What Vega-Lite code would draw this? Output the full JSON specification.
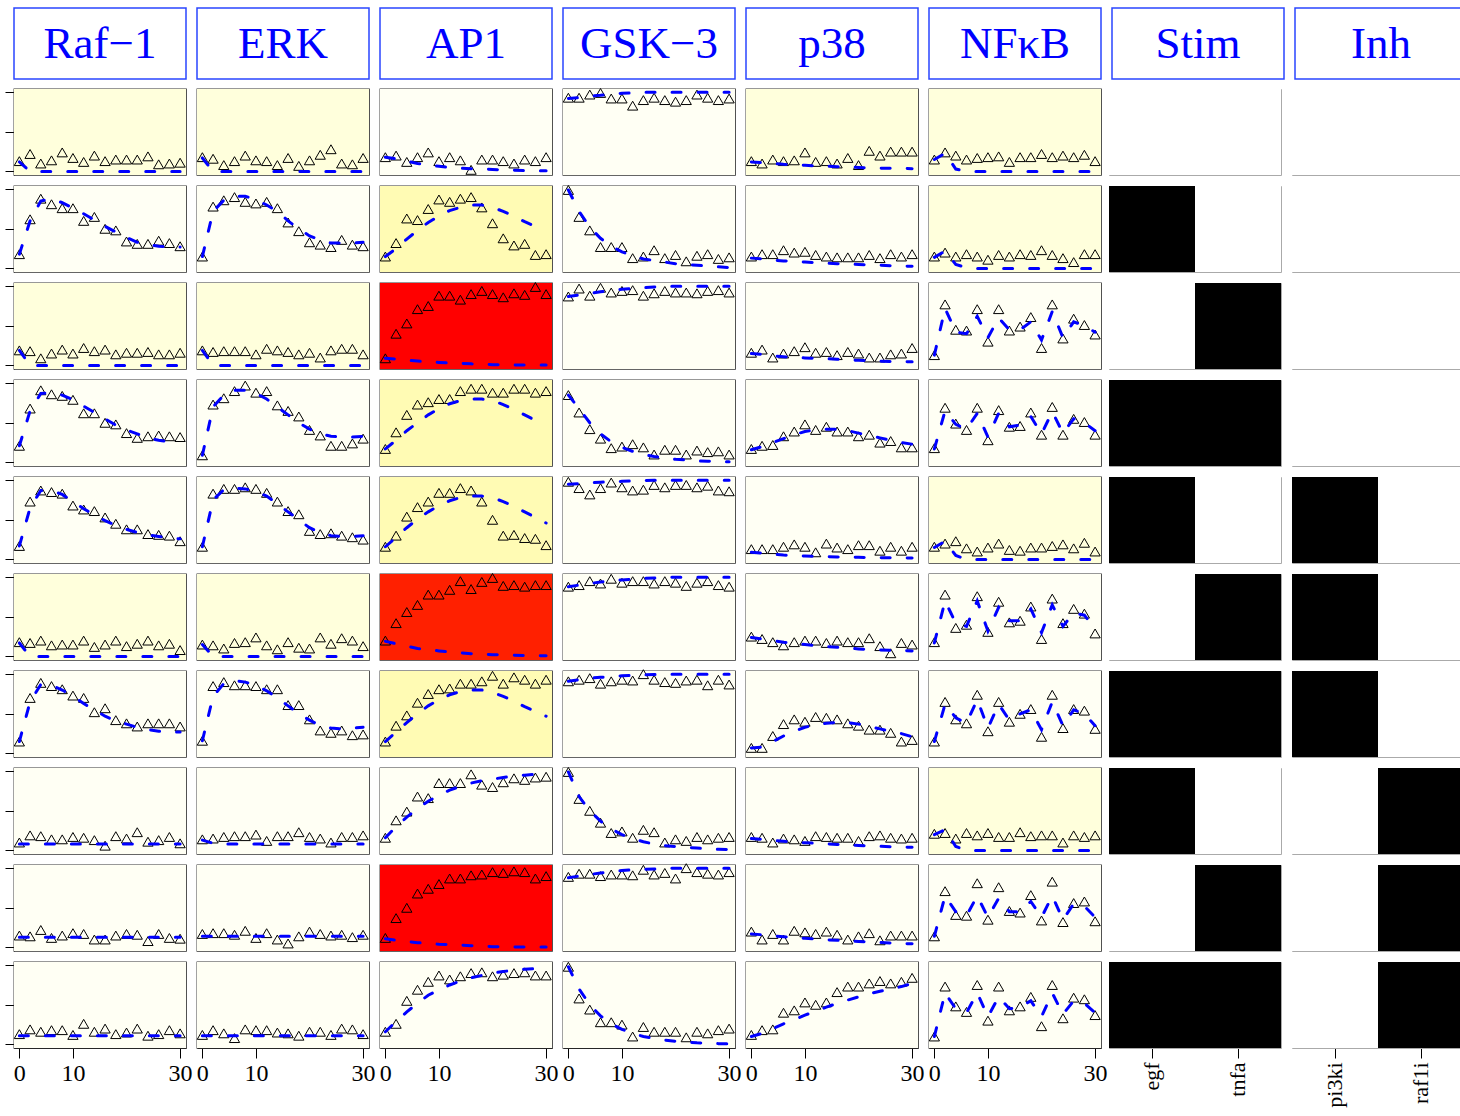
{
"$schema":"https://vega.github.io/schema/vega-lite/v6.json",
"background":"white",
"padding":{"left":4,"top":7,"right":0,"bottom":0},
"config":{"font":"Liberation Serif","view":{"stroke":"#333333","strokeWidth":1.3},"axis":{"grid":false,"domainColor":"#000000","tickColor":"#000000","labelColor":"#000000","labelFont":"Liberation Serif","labelFontSize":24}},
"datasets":{
"heads":[{"h":"Raf−1"},{"h":"ERK"},{"h":"AP1"},{"h":"GSK−3"},{"h":"p38"},{"h":"NFκB"},{"h":"Stim"},{"h":"Inh"}],
"stim":[
{"e":1,"s":"egf","v":0},{"e":1,"s":"tnfa","v":0},{"e":2,"s":"egf","v":1},{"e":2,"s":"tnfa","v":0},{"e":3,"s":"egf","v":0},{"e":3,"s":"tnfa","v":1},{"e":4,"s":"egf","v":1},{"e":4,"s":"tnfa","v":1},{"e":5,"s":"egf","v":1},{"e":5,"s":"tnfa","v":0},{"e":6,"s":"egf","v":0},{"e":6,"s":"tnfa","v":1},{"e":7,"s":"egf","v":1},{"e":7,"s":"tnfa","v":1},{"e":8,"s":"egf","v":1},{"e":8,"s":"tnfa","v":0},{"e":9,"s":"egf","v":0},{"e":9,"s":"tnfa","v":1},{"e":10,"s":"egf","v":1},{"e":10,"s":"tnfa","v":1}],
"inh":[
{"e":1,"s":"pi3ki","v":0},{"e":1,"s":"raf1i","v":0},{"e":2,"s":"pi3ki","v":0},{"e":2,"s":"raf1i","v":0},{"e":3,"s":"pi3ki","v":0},{"e":3,"s":"raf1i","v":0},{"e":4,"s":"pi3ki","v":0},{"e":4,"s":"raf1i","v":0},{"e":5,"s":"pi3ki","v":1},{"e":5,"s":"raf1i","v":0},{"e":6,"s":"pi3ki","v":1},{"e":6,"s":"raf1i","v":0},{"e":7,"s":"pi3ki","v":1},{"e":7,"s":"raf1i","v":0},{"e":8,"s":"pi3ki","v":0},{"e":8,"s":"raf1i","v":1},{"e":9,"s":"pi3ki","v":0},{"e":9,"s":"raf1i","v":1},{"e":10,"s":"pi3ki","v":0},{"e":10,"s":"raf1i","v":1}],
"obs":[
{"e":1,"p":"Raf−1","r":0.02},{"e":2,"p":"Raf−1","r":0.003},{"e":3,"p":"Raf−1","r":0.02},{"e":4,"p":"Raf−1","r":0.003},{"e":5,"p":"Raf−1","r":0.003},{"e":6,"p":"Raf−1","r":0.02},{"e":7,"p":"Raf−1","r":0.003},{"e":8,"p":"Raf−1","r":0.006},{"e":9,"p":"Raf−1","r":0.004},{"e":10,"p":"Raf−1","r":0.006},
{"e":1,"p":"ERK","r":0.02},{"e":2,"p":"ERK","r":0.004},{"e":3,"p":"ERK","r":0.02},{"e":4,"p":"ERK","r":0.005},{"e":5,"p":"ERK","r":0.004},{"e":6,"p":"ERK","r":0.02},{"e":7,"p":"ERK","r":0.004},{"e":8,"p":"ERK","r":0.004},{"e":9,"p":"ERK","r":0.003},{"e":10,"p":"ERK","r":0.004},
{"e":1,"p":"AP1","r":0.008},{"e":2,"p":"AP1","r":0.07},{"e":3,"p":"AP1","r":0.3},{"e":4,"p":"AP1","r":0.06},{"e":5,"p":"AP1","r":0.07},{"e":6,"p":"AP1","r":0.27},{"e":7,"p":"AP1","r":0.06},{"e":8,"p":"AP1","r":0.006},{"e":9,"p":"AP1","r":0.29},{"e":10,"p":"AP1","r":0.008},
{"e":1,"p":"GSK−3","r":0.004},{"e":2,"p":"GSK−3","r":0.005},{"e":3,"p":"GSK−3","r":0.003},{"e":4,"p":"GSK−3","r":0.004},{"e":5,"p":"GSK−3","r":0.004},{"e":6,"p":"GSK−3","r":0.003},{"e":7,"p":"GSK−3","r":0.003},{"e":8,"p":"GSK−3","r":0.005},{"e":9,"p":"GSK−3","r":0.003},{"e":10,"p":"GSK−3","r":0.008},
{"e":1,"p":"p38","r":0.015},{"e":2,"p":"p38","r":0.005},{"e":3,"p":"p38","r":0.004},{"e":4,"p":"p38","r":0.003},{"e":5,"p":"p38","r":0.008},{"e":6,"p":"p38","r":0.004},{"e":7,"p":"p38","r":0.003},{"e":8,"p":"p38","r":0.004},{"e":9,"p":"p38","r":0.004},{"e":10,"p":"p38","r":0.007},
{"e":1,"p":"NFκB","r":0.02},{"e":2,"p":"NFκB","r":0.02},{"e":3,"p":"NFκB","r":0.0},{"e":4,"p":"NFκB","r":0.0},{"e":5,"p":"NFκB","r":0.02},{"e":6,"p":"NFκB","r":0.004},{"e":7,"p":"NFκB","r":0.004},{"e":8,"p":"NFκB","r":0.025},{"e":9,"p":"NFκB","r":0.004},{"e":10,"p":"NFκB","r":0.005},

{"e":1,"p":"Raf−1","t":0,"d":0.13,"m":0.12},{"e":1,"p":"Raf−1","t":2,"d":0.22,"m":0},{"e":1,"p":"Raf−1","t":4,"d":0.10,"m":0},{"e":1,"p":"Raf−1","t":6,"d":0.14,"m":0},{"e":1,"p":"Raf−1","t":8,"d":0.24,"m":0},{"e":1,"p":"Raf−1","t":10,"d":0.17,"m":0},{"e":1,"p":"Raf−1","t":12,"d":0.12,"m":0},{"e":1,"p":"Raf−1","t":14,"d":0.20,"m":0},{"e":1,"p":"Raf−1","t":16,"d":0.13,"m":0},{"e":1,"p":"Raf−1","t":18,"d":0.15,"m":0},{"e":1,"p":"Raf−1","t":20,"d":0.15,"m":0},{"e":1,"p":"Raf−1","t":22,"d":0.15,"m":0},{"e":1,"p":"Raf−1","t":24,"d":0.19,"m":0},{"e":1,"p":"Raf−1","t":26,"d":0.09,"m":0},{"e":1,"p":"Raf−1","t":28,"d":0.10,"m":0},{"e":1,"p":"Raf−1","t":30,"d":0.11,"m":0},
{"e":2,"p":"Raf−1","t":0,"d":0.18,"m":0.18},{"e":2,"p":"Raf−1","t":2,"d":0.62,"m":0.60},{"e":2,"p":"Raf−1","t":4,"d":0.88,"m":0.85},{"e":2,"p":"Raf−1","t":6,"d":0.81,"m":0.88},{"e":2,"p":"Raf−1","t":8,"d":0.76,"m":0.83},{"e":2,"p":"Raf−1","t":10,"d":0.76,"m":0.76},{"e":2,"p":"Raf−1","t":12,"d":0.60,"m":0.69},{"e":2,"p":"Raf−1","t":14,"d":0.65,"m":0.61},{"e":2,"p":"Raf−1","t":16,"d":0.50,"m":0.53},{"e":2,"p":"Raf−1","t":18,"d":0.48,"m":0.46},{"e":2,"p":"Raf−1","t":20,"d":0.34,"m":0.39},{"e":2,"p":"Raf−1","t":22,"d":0.31,"m":0.33},{"e":2,"p":"Raf−1","t":24,"d":0.31,"m":0.30},{"e":2,"p":"Raf−1","t":26,"d":0.35,"m":0.28},{"e":2,"p":"Raf−1","t":28,"d":0.32,"m":0.27},{"e":2,"p":"Raf−1","t":30,"d":0.28,"m":0.27},
{"e":3,"p":"Raf−1","t":0,"d":0.19,"m":0.19},{"e":3,"p":"Raf−1","t":2,"d":0.18,"m":0},{"e":3,"p":"Raf−1","t":4,"d":0.09,"m":0},{"e":3,"p":"Raf−1","t":6,"d":0.15,"m":0},{"e":3,"p":"Raf−1","t":8,"d":0.20,"m":0},{"e":3,"p":"Raf−1","t":10,"d":0.15,"m":0},{"e":3,"p":"Raf−1","t":12,"d":0.22,"m":0},{"e":3,"p":"Raf−1","t":14,"d":0.18,"m":0},{"e":3,"p":"Raf−1","t":16,"d":0.20,"m":0},{"e":3,"p":"Raf−1","t":18,"d":0.14,"m":0},{"e":3,"p":"Raf−1","t":20,"d":0.16,"m":0},{"e":3,"p":"Raf−1","t":22,"d":0.16,"m":0},{"e":3,"p":"Raf−1","t":24,"d":0.17,"m":0},{"e":3,"p":"Raf−1","t":26,"d":0.14,"m":0},{"e":3,"p":"Raf−1","t":28,"d":0.14,"m":0},{"e":3,"p":"Raf−1","t":30,"d":0.16,"m":0},
{"e":4,"p":"Raf−1","t":0,"d":0.21,"m":0.21},{"e":4,"p":"Raf−1","t":2,"d":0.68,"m":0.65},{"e":4,"p":"Raf−1","t":4,"d":0.91,"m":0.87},{"e":4,"p":"Raf−1","t":6,"d":0.86,"m":0.88},{"e":4,"p":"Raf−1","t":8,"d":0.84,"m":0.85},{"e":4,"p":"Raf−1","t":10,"d":0.79,"m":0.79},{"e":4,"p":"Raf−1","t":12,"d":0.62,"m":0.71},{"e":4,"p":"Raf−1","t":14,"d":0.62,"m":0.63},{"e":4,"p":"Raf−1","t":16,"d":0.50,"m":0.55},{"e":4,"p":"Raf−1","t":18,"d":0.48,"m":0.47},{"e":4,"p":"Raf−1","t":20,"d":0.37,"m":0.41},{"e":4,"p":"Raf−1","t":22,"d":0.31,"m":0.36},{"e":4,"p":"Raf−1","t":24,"d":0.33,"m":0.31},{"e":4,"p":"Raf−1","t":26,"d":0.34,"m":0.28},{"e":4,"p":"Raf−1","t":28,"d":0.33,"m":0.26},{"e":4,"p":"Raf−1","t":30,"d":0.32,"m":0.26},
{"e":5,"p":"Raf−1","t":0,"d":0.17,"m":0.17},{"e":5,"p":"Raf−1","t":2,"d":0.73,"m":0.65},{"e":5,"p":"Raf−1","t":4,"d":0.87,"m":0.87},{"e":5,"p":"Raf−1","t":6,"d":0.85,"m":0.87},{"e":5,"p":"Raf−1","t":8,"d":0.83,"m":0.82},{"e":5,"p":"Raf−1","t":10,"d":0.68,"m":0.73},{"e":5,"p":"Raf−1","t":12,"d":0.63,"m":0.64},{"e":5,"p":"Raf−1","t":14,"d":0.61,"m":0.56},{"e":5,"p":"Raf−1","t":16,"d":0.53,"m":0.49},{"e":5,"p":"Raf−1","t":18,"d":0.45,"m":0.43},{"e":5,"p":"Raf−1","t":20,"d":0.38,"m":0.38},{"e":5,"p":"Raf−1","t":22,"d":0.38,"m":0.34},{"e":5,"p":"Raf−1","t":24,"d":0.32,"m":0.31},{"e":5,"p":"Raf−1","t":26,"d":0.31,"m":0.29},{"e":5,"p":"Raf−1","t":28,"d":0.30,"m":0.27},{"e":5,"p":"Raf−1","t":30,"d":0.23,"m":0.26},
{"e":6,"p":"Raf−1","t":0,"d":0.18,"m":0.17},{"e":6,"p":"Raf−1","t":2,"d":0.17,"m":0},{"e":6,"p":"Raf−1","t":4,"d":0.20,"m":0},{"e":6,"p":"Raf−1","t":6,"d":0.14,"m":0},{"e":6,"p":"Raf−1","t":8,"d":0.15,"m":0},{"e":6,"p":"Raf−1","t":10,"d":0.15,"m":0},{"e":6,"p":"Raf−1","t":12,"d":0.20,"m":0},{"e":6,"p":"Raf−1","t":14,"d":0.12,"m":0},{"e":6,"p":"Raf−1","t":16,"d":0.15,"m":0},{"e":6,"p":"Raf−1","t":18,"d":0.20,"m":0},{"e":6,"p":"Raf−1","t":20,"d":0.13,"m":0},{"e":6,"p":"Raf−1","t":22,"d":0.16,"m":0},{"e":6,"p":"Raf−1","t":24,"d":0.20,"m":0},{"e":6,"p":"Raf−1","t":26,"d":0.14,"m":0},{"e":6,"p":"Raf−1","t":28,"d":0.16,"m":0},{"e":6,"p":"Raf−1","t":30,"d":0.08,"m":0},
{"e":7,"p":"Raf−1","t":0,"d":0.15,"m":0.15},{"e":7,"p":"Raf−1","t":2,"d":0.70,"m":0.65},{"e":7,"p":"Raf−1","t":4,"d":0.89,"m":0.87},{"e":7,"p":"Raf−1","t":6,"d":0.85,"m":0.86},{"e":7,"p":"Raf−1","t":8,"d":0.81,"m":0.80},{"e":7,"p":"Raf−1","t":10,"d":0.73,"m":0.72},{"e":7,"p":"Raf−1","t":12,"d":0.70,"m":0.63},{"e":7,"p":"Raf−1","t":14,"d":0.52,"m":0.55},{"e":7,"p":"Raf−1","t":16,"d":0.57,"m":0.47},{"e":7,"p":"Raf−1","t":18,"d":0.42,"m":0.41},{"e":7,"p":"Raf−1","t":20,"d":0.38,"m":0.37},{"e":7,"p":"Raf−1","t":22,"d":0.34,"m":0.33},{"e":7,"p":"Raf−1","t":24,"d":0.38,"m":0.30},{"e":7,"p":"Raf−1","t":26,"d":0.38,"m":0.28},{"e":7,"p":"Raf−1","t":28,"d":0.38,"m":0.27},{"e":7,"p":"Raf−1","t":30,"d":0.34,"m":0.27},
{"e":8,"p":"Raf−1","t":0,"d":0.10,"m":0.08},{"e":8,"p":"Raf−1","t":2,"d":0.19,"m":0.08},{"e":8,"p":"Raf−1","t":4,"d":0.18,"m":0.08},{"e":8,"p":"Raf−1","t":6,"d":0.14,"m":0.08},{"e":8,"p":"Raf−1","t":8,"d":0.14,"m":0.08},{"e":8,"p":"Raf−1","t":10,"d":0.17,"m":0.08},{"e":8,"p":"Raf−1","t":12,"d":0.16,"m":0.08},{"e":8,"p":"Raf−1","t":14,"d":0.13,"m":0.08},{"e":8,"p":"Raf−1","t":16,"d":0.06,"m":0.08},{"e":8,"p":"Raf−1","t":18,"d":0.18,"m":0.08},{"e":8,"p":"Raf−1","t":20,"d":0.15,"m":0.08},{"e":8,"p":"Raf−1","t":22,"d":0.23,"m":0.08},{"e":8,"p":"Raf−1","t":24,"d":0.11,"m":0.08},{"e":8,"p":"Raf−1","t":26,"d":0.13,"m":0.08},{"e":8,"p":"Raf−1","t":28,"d":0.17,"m":0.08},{"e":8,"p":"Raf−1","t":30,"d":0.09,"m":0.08},
{"e":9,"p":"Raf−1","t":0,"d":0.15,"m":0.13},{"e":9,"p":"Raf−1","t":2,"d":0.14,"m":0.13},{"e":9,"p":"Raf−1","t":4,"d":0.22,"m":0.13},{"e":9,"p":"Raf−1","t":6,"d":0.12,"m":0.13},{"e":9,"p":"Raf−1","t":8,"d":0.15,"m":0.13},{"e":9,"p":"Raf−1","t":10,"d":0.18,"m":0.13},{"e":9,"p":"Raf−1","t":12,"d":0.17,"m":0.13},{"e":9,"p":"Raf−1","t":14,"d":0.10,"m":0.13},{"e":9,"p":"Raf−1","t":16,"d":0.10,"m":0.13},{"e":9,"p":"Raf−1","t":18,"d":0.15,"m":0.13},{"e":9,"p":"Raf−1","t":20,"d":0.17,"m":0.13},{"e":9,"p":"Raf−1","t":22,"d":0.16,"m":0.13},{"e":9,"p":"Raf−1","t":24,"d":0.08,"m":0.13},{"e":9,"p":"Raf−1","t":26,"d":0.17,"m":0.13},{"e":9,"p":"Raf−1","t":28,"d":0.12,"m":0.13},{"e":9,"p":"Raf−1","t":30,"d":0.11,"m":0.13},
{"e":10,"p":"Raf−1","t":0,"d":0.13,"m":0.11},{"e":10,"p":"Raf−1","t":2,"d":0.19,"m":0.11},{"e":10,"p":"Raf−1","t":4,"d":0.16,"m":0.11},{"e":10,"p":"Raf−1","t":6,"d":0.18,"m":0.11},{"e":10,"p":"Raf−1","t":8,"d":0.18,"m":0.11},{"e":10,"p":"Raf−1","t":10,"d":0.12,"m":0.11},{"e":10,"p":"Raf−1","t":12,"d":0.26,"m":0.11},{"e":10,"p":"Raf−1","t":14,"d":0.16,"m":0.11},{"e":10,"p":"Raf−1","t":16,"d":0.20,"m":0.11},{"e":10,"p":"Raf−1","t":18,"d":0.13,"m":0.11},{"e":10,"p":"Raf−1","t":20,"d":0.15,"m":0.11},{"e":10,"p":"Raf−1","t":22,"d":0.20,"m":0.11},{"e":10,"p":"Raf−1","t":24,"d":0.11,"m":0.11},{"e":10,"p":"Raf−1","t":26,"d":0.13,"m":0.11},{"e":10,"p":"Raf−1","t":28,"d":0.18,"m":0.11},{"e":10,"p":"Raf−1","t":30,"d":0.14,"m":0.11},

{"e":1,"p":"ERK","t":0,"d":0.18,"m":0.17},{"e":1,"p":"ERK","t":2,"d":0.16,"m":0},{"e":1,"p":"ERK","t":4,"d":0.08,"m":0},{"e":1,"p":"ERK","t":6,"d":0.13,"m":0},{"e":1,"p":"ERK","t":8,"d":0.20,"m":0},{"e":1,"p":"ERK","t":10,"d":0.14,"m":0},{"e":1,"p":"ERK","t":12,"d":0.13,"m":0},{"e":1,"p":"ERK","t":14,"d":0.08,"m":0},{"e":1,"p":"ERK","t":16,"d":0.17,"m":0},{"e":1,"p":"ERK","t":18,"d":0.07,"m":0},{"e":1,"p":"ERK","t":20,"d":0.14,"m":0},{"e":1,"p":"ERK","t":22,"d":0.21,"m":0},{"e":1,"p":"ERK","t":24,"d":0.28,"m":0},{"e":1,"p":"ERK","t":26,"d":0.10,"m":0},{"e":1,"p":"ERK","t":28,"d":0.09,"m":0},{"e":1,"p":"ERK","t":30,"d":0.17,"m":0},
{"e":2,"p":"ERK","t":0,"d":0.15,"m":0.15},{"e":2,"p":"ERK","t":2,"d":0.78,"m":0.72},{"e":2,"p":"ERK","t":4,"d":0.86,"m":0.86},{"e":2,"p":"ERK","t":6,"d":0.90,"m":0.91},{"e":2,"p":"ERK","t":8,"d":0.84,"m":0.91},{"e":2,"p":"ERK","t":10,"d":0.82,"m":0.87},{"e":2,"p":"ERK","t":12,"d":0.84,"m":0.80},{"e":2,"p":"ERK","t":14,"d":0.76,"m":0.72},{"e":2,"p":"ERK","t":16,"d":0.58,"m":0.60},{"e":2,"p":"ERK","t":18,"d":0.47,"m":0.50},{"e":2,"p":"ERK","t":20,"d":0.33,"m":0.41},{"e":2,"p":"ERK","t":22,"d":0.30,"m":0.36},{"e":2,"p":"ERK","t":24,"d":0.27,"m":0.32},{"e":2,"p":"ERK","t":26,"d":0.36,"m":0.32},{"e":2,"p":"ERK","t":28,"d":0.30,"m":0.32},{"e":2,"p":"ERK","t":30,"d":0.28,"m":0.33},
{"e":3,"p":"ERK","t":0,"d":0.19,"m":0.19},{"e":3,"p":"ERK","t":2,"d":0.17,"m":0},{"e":3,"p":"ERK","t":4,"d":0.18,"m":0},{"e":3,"p":"ERK","t":6,"d":0.18,"m":0},{"e":3,"p":"ERK","t":8,"d":0.18,"m":0},{"e":3,"p":"ERK","t":10,"d":0.14,"m":0},{"e":3,"p":"ERK","t":12,"d":0.21,"m":0},{"e":3,"p":"ERK","t":14,"d":0.19,"m":0},{"e":3,"p":"ERK","t":16,"d":0.17,"m":0},{"e":3,"p":"ERK","t":18,"d":0.14,"m":0},{"e":3,"p":"ERK","t":20,"d":0.16,"m":0},{"e":3,"p":"ERK","t":22,"d":0.10,"m":0},{"e":3,"p":"ERK","t":24,"d":0.19,"m":0},{"e":3,"p":"ERK","t":26,"d":0.21,"m":0},{"e":3,"p":"ERK","t":28,"d":0.21,"m":0},{"e":3,"p":"ERK","t":30,"d":0.14,"m":0},
{"e":4,"p":"ERK","t":0,"d":0.09,"m":0.09},{"e":4,"p":"ERK","t":2,"d":0.73,"m":0.70},{"e":4,"p":"ERK","t":4,"d":0.81,"m":0.85},{"e":4,"p":"ERK","t":6,"d":0.90,"m":0.91},{"e":4,"p":"ERK","t":8,"d":0.97,"m":0.91},{"e":4,"p":"ERK","t":10,"d":0.88,"m":0.87},{"e":4,"p":"ERK","t":12,"d":0.90,"m":0.80},{"e":4,"p":"ERK","t":14,"d":0.72,"m":0.70},{"e":4,"p":"ERK","t":16,"d":0.65,"m":0.60},{"e":4,"p":"ERK","t":18,"d":0.58,"m":0.50},{"e":4,"p":"ERK","t":20,"d":0.41,"m":0.42},{"e":4,"p":"ERK","t":22,"d":0.34,"m":0.36},{"e":4,"p":"ERK","t":24,"d":0.21,"m":0.33},{"e":4,"p":"ERK","t":26,"d":0.21,"m":0.32},{"e":4,"p":"ERK","t":28,"d":0.24,"m":0.32},{"e":4,"p":"ERK","t":30,"d":0.30,"m":0.33},
{"e":5,"p":"ERK","t":0,"d":0.16,"m":0.16},{"e":5,"p":"ERK","t":2,"d":0.83,"m":0.75},{"e":5,"p":"ERK","t":4,"d":0.89,"m":0.88},{"e":5,"p":"ERK","t":6,"d":0.89,"m":0.90},{"e":5,"p":"ERK","t":8,"d":0.91,"m":0.89},{"e":5,"p":"ERK","t":10,"d":0.89,"m":0.86},{"e":5,"p":"ERK","t":12,"d":0.84,"m":0.80},{"e":5,"p":"ERK","t":14,"d":0.73,"m":0.70},{"e":5,"p":"ERK","t":16,"d":0.61,"m":0.60},{"e":5,"p":"ERK","t":18,"d":0.57,"m":0.50},{"e":5,"p":"ERK","t":20,"d":0.36,"m":0.40},{"e":5,"p":"ERK","t":22,"d":0.32,"m":0.34},{"e":5,"p":"ERK","t":24,"d":0.33,"m":0.30},{"e":5,"p":"ERK","t":26,"d":0.30,"m":0.29},{"e":5,"p":"ERK","t":28,"d":0.28,"m":0.29},{"e":5,"p":"ERK","t":30,"d":0.25,"m":0.30},
{"e":6,"p":"ERK","t":0,"d":0.15,"m":0.15},{"e":6,"p":"ERK","t":2,"d":0.14,"m":0},{"e":6,"p":"ERK","t":4,"d":0.10,"m":0},{"e":6,"p":"ERK","t":6,"d":0.17,"m":0},{"e":6,"p":"ERK","t":8,"d":0.18,"m":0},{"e":6,"p":"ERK","t":10,"d":0.24,"m":0},{"e":6,"p":"ERK","t":12,"d":0.14,"m":0},{"e":6,"p":"ERK","t":14,"d":0.09,"m":0},{"e":6,"p":"ERK","t":16,"d":0.18,"m":0},{"e":6,"p":"ERK","t":18,"d":0.11,"m":0},{"e":6,"p":"ERK","t":20,"d":0.10,"m":0},{"e":6,"p":"ERK","t":22,"d":0.24,"m":0},{"e":6,"p":"ERK","t":24,"d":0.16,"m":0},{"e":6,"p":"ERK","t":26,"d":0.23,"m":0},{"e":6,"p":"ERK","t":28,"d":0.20,"m":0},{"e":6,"p":"ERK","t":30,"d":0.13,"m":0},
{"e":7,"p":"ERK","t":0,"d":0.16,"m":0.16},{"e":7,"p":"ERK","t":2,"d":0.85,"m":0.72},{"e":7,"p":"ERK","t":4,"d":0.90,"m":0.88},{"e":7,"p":"ERK","t":6,"d":0.86,"m":0.92},{"e":7,"p":"ERK","t":8,"d":0.86,"m":0.90},{"e":7,"p":"ERK","t":10,"d":0.85,"m":0.86},{"e":7,"p":"ERK","t":12,"d":0.81,"m":0.79},{"e":7,"p":"ERK","t":14,"d":0.81,"m":0.70},{"e":7,"p":"ERK","t":16,"d":0.61,"m":0.60},{"e":7,"p":"ERK","t":18,"d":0.61,"m":0.50},{"e":7,"p":"ERK","t":20,"d":0.43,"m":0.42},{"e":7,"p":"ERK","t":22,"d":0.29,"m":0.35},{"e":7,"p":"ERK","t":24,"d":0.26,"m":0.32},{"e":7,"p":"ERK","t":26,"d":0.29,"m":0.31},{"e":7,"p":"ERK","t":28,"d":0.23,"m":0.32},{"e":7,"p":"ERK","t":30,"d":0.24,"m":0.33},
{"e":8,"p":"ERK","t":0,"d":0.14,"m":0.13},{"e":8,"p":"ERK","t":2,"d":0.15,"m":0.09},{"e":8,"p":"ERK","t":4,"d":0.17,"m":0.08},{"e":8,"p":"ERK","t":6,"d":0.18,"m":0.08},{"e":8,"p":"ERK","t":8,"d":0.18,"m":0.08},{"e":8,"p":"ERK","t":10,"d":0.20,"m":0.08},{"e":8,"p":"ERK","t":12,"d":0.12,"m":0.08},{"e":8,"p":"ERK","t":14,"d":0.18,"m":0.08},{"e":8,"p":"ERK","t":16,"d":0.18,"m":0.08},{"e":8,"p":"ERK","t":18,"d":0.23,"m":0.08},{"e":8,"p":"ERK","t":20,"d":0.17,"m":0.08},{"e":8,"p":"ERK","t":22,"d":0.15,"m":0.08},{"e":8,"p":"ERK","t":24,"d":0.10,"m":0.08},{"e":8,"p":"ERK","t":26,"d":0.17,"m":0.08},{"e":8,"p":"ERK","t":28,"d":0.17,"m":0.08},{"e":8,"p":"ERK","t":30,"d":0.19,"m":0.08},
{"e":9,"p":"ERK","t":0,"d":0.17,"m":0.14},{"e":9,"p":"ERK","t":2,"d":0.18,"m":0.14},{"e":9,"p":"ERK","t":4,"d":0.18,"m":0.14},{"e":9,"p":"ERK","t":6,"d":0.16,"m":0.14},{"e":9,"p":"ERK","t":8,"d":0.21,"m":0.14},{"e":9,"p":"ERK","t":10,"d":0.12,"m":0.14},{"e":9,"p":"ERK","t":12,"d":0.18,"m":0.14},{"e":9,"p":"ERK","t":14,"d":0.10,"m":0.14},{"e":9,"p":"ERK","t":16,"d":0.05,"m":0.14},{"e":9,"p":"ERK","t":18,"d":0.14,"m":0.14},{"e":9,"p":"ERK","t":20,"d":0.20,"m":0.14},{"e":9,"p":"ERK","t":22,"d":0.17,"m":0.14},{"e":9,"p":"ERK","t":24,"d":0.15,"m":0.14},{"e":9,"p":"ERK","t":26,"d":0.16,"m":0.14},{"e":9,"p":"ERK","t":28,"d":0.13,"m":0.14},{"e":9,"p":"ERK","t":30,"d":0.16,"m":0.14},
{"e":10,"p":"ERK","t":0,"d":0.12,"m":0.11},{"e":10,"p":"ERK","t":2,"d":0.18,"m":0.11},{"e":10,"p":"ERK","t":4,"d":0.14,"m":0.11},{"e":10,"p":"ERK","t":6,"d":0.08,"m":0.11},{"e":10,"p":"ERK","t":8,"d":0.19,"m":0.11},{"e":10,"p":"ERK","t":10,"d":0.18,"m":0.11},{"e":10,"p":"ERK","t":12,"d":0.18,"m":0.11},{"e":10,"p":"ERK","t":14,"d":0.15,"m":0.11},{"e":10,"p":"ERK","t":16,"d":0.14,"m":0.11},{"e":10,"p":"ERK","t":18,"d":0.11,"m":0.11},{"e":10,"p":"ERK","t":20,"d":0.16,"m":0.11},{"e":10,"p":"ERK","t":22,"d":0.16,"m":0.11},{"e":10,"p":"ERK","t":24,"d":0.12,"m":0.11},{"e":10,"p":"ERK","t":26,"d":0.20,"m":0.11},{"e":10,"p":"ERK","t":28,"d":0.19,"m":0.11},{"e":10,"p":"ERK","t":30,"d":0.13,"m":0.11},

{"e":1,"p":"AP1","t":0,"d":0.18,"m":0.18},{"e":1,"p":"AP1","t":2,"d":0.20,"m":0.16},{"e":1,"p":"AP1","t":4,"d":0.12,"m":0.13},{"e":1,"p":"AP1","t":6,"d":0.18,"m":0.10},{"e":1,"p":"AP1","t":8,"d":0.24,"m":0.08},{"e":1,"p":"AP1","t":10,"d":0.13,"m":0.065},{"e":1,"p":"AP1","t":12,"d":0.18,"m":0.05},{"e":1,"p":"AP1","t":14,"d":0.14,"m":0.04},{"e":1,"p":"AP1","t":16,"d":0.02,"m":0.035},{"e":1,"p":"AP1","t":18,"d":0.15,"m":0.03},{"e":1,"p":"AP1","t":20,"d":0.15,"m":0.025},{"e":1,"p":"AP1","t":22,"d":0.13,"m":0.02},{"e":1,"p":"AP1","t":24,"d":0.10,"m":0.015},{"e":1,"p":"AP1","t":26,"d":0.15,"m":0.01},{"e":1,"p":"AP1","t":28,"d":0.13,"m":0.01},{"e":1,"p":"AP1","t":30,"d":0.18,"m":0.01},
{"e":2,"p":"AP1","t":0,"d":0.15,"m":0.15},{"e":2,"p":"AP1","t":2,"d":0.32,"m":0.25},{"e":2,"p":"AP1","t":4,"d":0.63,"m":0.37},{"e":2,"p":"AP1","t":6,"d":0.61,"m":0.48},{"e":2,"p":"AP1","t":8,"d":0.75,"m":0.58},{"e":2,"p":"AP1","t":10,"d":0.87,"m":0.66},{"e":2,"p":"AP1","t":12,"d":0.84,"m":0.73},{"e":2,"p":"AP1","t":14,"d":0.88,"m":0.77},{"e":2,"p":"AP1","t":16,"d":0.90,"m":0.80},{"e":2,"p":"AP1","t":18,"d":0.77,"m":0.80},{"e":2,"p":"AP1","t":20,"d":0.57,"m":0.77},{"e":2,"p":"AP1","t":22,"d":0.38,"m":0.72},{"e":2,"p":"AP1","t":24,"d":0.29,"m":0.66},{"e":2,"p":"AP1","t":26,"d":0.31,"m":0.59},{"e":2,"p":"AP1","t":28,"d":0.17,"m":0.53},{"e":2,"p":"AP1","t":30,"d":0.18,"m":0.47},
{"e":3,"p":"AP1","t":0,"d":0.09,"m":0.09},{"e":3,"p":"AP1","t":2,"d":0.40,"m":0.08},{"e":3,"p":"AP1","t":4,"d":0.53,"m":0.065},{"e":3,"p":"AP1","t":6,"d":0.71,"m":0.055},{"e":3,"p":"AP1","t":8,"d":0.75,"m":0.045},{"e":3,"p":"AP1","t":10,"d":0.88,"m":0.038},{"e":3,"p":"AP1","t":12,"d":0.88,"m":0.03},{"e":3,"p":"AP1","t":14,"d":0.83,"m":0.025},{"e":3,"p":"AP1","t":16,"d":0.90,"m":0.02},{"e":3,"p":"AP1","t":18,"d":0.94,"m":0.015},{"e":3,"p":"AP1","t":20,"d":0.90,"m":0.01},{"e":3,"p":"AP1","t":22,"d":0.86,"m":0.008},{"e":3,"p":"AP1","t":24,"d":0.91,"m":0.006},{"e":3,"p":"AP1","t":26,"d":0.89,"m":0.005},{"e":3,"p":"AP1","t":28,"d":0.99,"m":0.004},{"e":3,"p":"AP1","t":30,"d":0.90,"m":0.004},
{"e":4,"p":"AP1","t":0,"d":0.17,"m":0.17},{"e":4,"p":"AP1","t":2,"d":0.38,"m":0.28},{"e":4,"p":"AP1","t":4,"d":0.60,"m":0.40},{"e":4,"p":"AP1","t":6,"d":0.73,"m":0.50},{"e":4,"p":"AP1","t":8,"d":0.76,"m":0.60},{"e":4,"p":"AP1","t":10,"d":0.80,"m":0.68},{"e":4,"p":"AP1","t":12,"d":0.80,"m":0.74},{"e":4,"p":"AP1","t":14,"d":0.90,"m":0.78},{"e":4,"p":"AP1","t":16,"d":0.93,"m":0.80},{"e":4,"p":"AP1","t":18,"d":0.93,"m":0.80},{"e":4,"p":"AP1","t":20,"d":0.88,"m":0.78},{"e":4,"p":"AP1","t":22,"d":0.88,"m":0.73},{"e":4,"p":"AP1","t":24,"d":0.93,"m":0.67},{"e":4,"p":"AP1","t":26,"d":0.93,"m":0.60},{"e":4,"p":"AP1","t":28,"d":0.88,"m":0.53},{"e":4,"p":"AP1","t":30,"d":0.90,"m":0.46},
{"e":5,"p":"AP1","t":0,"d":0.16,"m":0.16},{"e":5,"p":"AP1","t":2,"d":0.30,"m":0.28},{"e":5,"p":"AP1","t":4,"d":0.54,"m":0.40},{"e":5,"p":"AP1","t":6,"d":0.66,"m":0.51},{"e":5,"p":"AP1","t":8,"d":0.73,"m":0.60},{"e":5,"p":"AP1","t":10,"d":0.84,"m":0.68},{"e":5,"p":"AP1","t":12,"d":0.84,"m":0.74},{"e":5,"p":"AP1","t":14,"d":0.90,"m":0.78},{"e":5,"p":"AP1","t":16,"d":0.87,"m":0.80},{"e":5,"p":"AP1","t":18,"d":0.73,"m":0.80},{"e":5,"p":"AP1","t":20,"d":0.50,"m":0.78},{"e":5,"p":"AP1","t":22,"d":0.30,"m":0.73},{"e":5,"p":"AP1","t":24,"d":0.31,"m":0.67},{"e":5,"p":"AP1","t":26,"d":0.27,"m":0.60},{"e":5,"p":"AP1","t":28,"d":0.26,"m":0.53},{"e":5,"p":"AP1","t":30,"d":0.18,"m":0.46},
{"e":6,"p":"AP1","t":0,"d":0.20,"m":0.19},{"e":6,"p":"AP1","t":2,"d":0.42,"m":0.16},{"e":6,"p":"AP1","t":4,"d":0.56,"m":0.13},{"e":6,"p":"AP1","t":6,"d":0.65,"m":0.10},{"e":6,"p":"AP1","t":8,"d":0.78,"m":0.085},{"e":6,"p":"AP1","t":10,"d":0.78,"m":0.07},{"e":6,"p":"AP1","t":12,"d":0.84,"m":0.055},{"e":6,"p":"AP1","t":14,"d":0.95,"m":0.045},{"e":6,"p":"AP1","t":16,"d":0.85,"m":0.035},{"e":6,"p":"AP1","t":18,"d":0.94,"m":0.028},{"e":6,"p":"AP1","t":20,"d":0.99,"m":0.022},{"e":6,"p":"AP1","t":22,"d":0.89,"m":0.018},{"e":6,"p":"AP1","t":24,"d":0.90,"m":0.014},{"e":6,"p":"AP1","t":26,"d":0.88,"m":0.011},{"e":6,"p":"AP1","t":28,"d":0.90,"m":0.009},{"e":6,"p":"AP1","t":30,"d":0.90,"m":0.008},
{"e":7,"p":"AP1","t":0,"d":0.15,"m":0.15},{"e":7,"p":"AP1","t":2,"d":0.35,"m":0.27},{"e":7,"p":"AP1","t":4,"d":0.48,"m":0.39},{"e":7,"p":"AP1","t":6,"d":0.64,"m":0.50},{"e":7,"p":"AP1","t":8,"d":0.75,"m":0.60},{"e":7,"p":"AP1","t":10,"d":0.81,"m":0.68},{"e":7,"p":"AP1","t":12,"d":0.82,"m":0.74},{"e":7,"p":"AP1","t":14,"d":0.88,"m":0.78},{"e":7,"p":"AP1","t":16,"d":0.88,"m":0.80},{"e":7,"p":"AP1","t":18,"d":0.91,"m":0.80},{"e":7,"p":"AP1","t":20,"d":0.98,"m":0.77},{"e":7,"p":"AP1","t":22,"d":0.88,"m":0.72},{"e":7,"p":"AP1","t":24,"d":0.96,"m":0.66},{"e":7,"p":"AP1","t":26,"d":0.93,"m":0.59},{"e":7,"p":"AP1","t":28,"d":0.88,"m":0.53},{"e":7,"p":"AP1","t":30,"d":0.93,"m":0.47},
{"e":8,"p":"AP1","t":0,"d":0.16,"m":0.16},{"e":8,"p":"AP1","t":2,"d":0.38,"m":0.30},{"e":8,"p":"AP1","t":4,"d":0.49,"m":0.42},{"e":8,"p":"AP1","t":6,"d":0.68,"m":0.53},{"e":8,"p":"AP1","t":8,"d":0.66,"m":0.62},{"e":8,"p":"AP1","t":10,"d":0.85,"m":0.70},{"e":8,"p":"AP1","t":12,"d":0.85,"m":0.76},{"e":8,"p":"AP1","t":14,"d":0.85,"m":0.81},{"e":8,"p":"AP1","t":16,"d":0.96,"m":0.85},{"e":8,"p":"AP1","t":18,"d":0.83,"m":0.88},{"e":8,"p":"AP1","t":20,"d":0.80,"m":0.90},{"e":8,"p":"AP1","t":22,"d":0.86,"m":0.92},{"e":8,"p":"AP1","t":24,"d":0.91,"m":0.94},{"e":8,"p":"AP1","t":26,"d":0.89,"m":0.95},{"e":8,"p":"AP1","t":28,"d":0.92,"m":0.96},{"e":8,"p":"AP1","t":30,"d":0.93,"m":0.965},
{"e":9,"p":"AP1","t":0,"d":0.12,"m":0.11},{"e":9,"p":"AP1","t":2,"d":0.37,"m":0.09},{"e":9,"p":"AP1","t":4,"d":0.50,"m":0.075},{"e":9,"p":"AP1","t":6,"d":0.68,"m":0.06},{"e":9,"p":"AP1","t":8,"d":0.74,"m":0.05},{"e":9,"p":"AP1","t":10,"d":0.80,"m":0.04},{"e":9,"p":"AP1","t":12,"d":0.87,"m":0.035},{"e":9,"p":"AP1","t":14,"d":0.87,"m":0.03},{"e":9,"p":"AP1","t":16,"d":0.91,"m":0.022},{"e":9,"p":"AP1","t":18,"d":0.92,"m":0.015},{"e":9,"p":"AP1","t":20,"d":0.95,"m":0.01},{"e":9,"p":"AP1","t":22,"d":0.94,"m":0.007},{"e":9,"p":"AP1","t":24,"d":0.96,"m":0.005},{"e":9,"p":"AP1","t":26,"d":0.95,"m":0.004},{"e":9,"p":"AP1","t":28,"d":0.87,"m":0.004},{"e":9,"p":"AP1","t":30,"d":0.90,"m":0.004},
{"e":10,"p":"AP1","t":0,"d":0.16,"m":0.16},{"e":10,"p":"AP1","t":2,"d":0.26,"m":0.29},{"e":10,"p":"AP1","t":4,"d":0.55,"m":0.41},{"e":10,"p":"AP1","t":6,"d":0.69,"m":0.52},{"e":10,"p":"AP1","t":8,"d":0.79,"m":0.62},{"e":10,"p":"AP1","t":10,"d":0.87,"m":0.69},{"e":10,"p":"AP1","t":12,"d":0.82,"m":0.75},{"e":10,"p":"AP1","t":14,"d":0.86,"m":0.80},{"e":10,"p":"AP1","t":16,"d":0.90,"m":0.84},{"e":10,"p":"AP1","t":18,"d":0.91,"m":0.87},{"e":10,"p":"AP1","t":20,"d":0.86,"m":0.90},{"e":10,"p":"AP1","t":22,"d":0.88,"m":0.92},{"e":10,"p":"AP1","t":24,"d":0.90,"m":0.935},{"e":10,"p":"AP1","t":26,"d":0.91,"m":0.95},{"e":10,"p":"AP1","t":28,"d":0.87,"m":0.955},{"e":10,"p":"AP1","t":30,"d":0.87,"m":0.96},

{"e":1,"p":"GSK−3","t":0,"d":0.93,"m":0.92},{"e":1,"p":"GSK−3","t":2,"d":0.93,"m":0.93},{"e":1,"p":"GSK−3","t":4,"d":0.97,"m":0.95},{"e":1,"p":"GSK−3","t":6,"d":0.99,"m":0.96},{"e":1,"p":"GSK−3","t":8,"d":0.92,"m":0.975},{"e":1,"p":"GSK−3","t":10,"d":0.92,"m":0.985},{"e":1,"p":"GSK−3","t":12,"d":0.83,"m":0.99},{"e":1,"p":"GSK−3","t":14,"d":0.90,"m":1.0},{"e":1,"p":"GSK−3","t":16,"d":0.93,"m":1.0},{"e":1,"p":"GSK−3","t":18,"d":0.90,"m":1.0},{"e":1,"p":"GSK−3","t":20,"d":0.88,"m":1.0},{"e":1,"p":"GSK−3","t":22,"d":0.90,"m":1.0},{"e":1,"p":"GSK−3","t":24,"d":0.97,"m":1.0},{"e":1,"p":"GSK−3","t":26,"d":0.93,"m":1.0},{"e":1,"p":"GSK−3","t":28,"d":0.90,"m":1.0},{"e":1,"p":"GSK−3","t":30,"d":0.92,"m":1.0},
{"e":2,"p":"GSK−3","t":0,"d":0.99,"m":0.99},{"e":2,"p":"GSK−3","t":2,"d":0.65,"m":0.72},{"e":2,"p":"GSK−3","t":4,"d":0.48,"m":0.52},{"e":2,"p":"GSK−3","t":6,"d":0.27,"m":0.38},{"e":2,"p":"GSK−3","t":8,"d":0.27,"m":0.28},{"e":2,"p":"GSK−3","t":10,"d":0.27,"m":0.21},{"e":2,"p":"GSK−3","t":12,"d":0.13,"m":0.16},{"e":2,"p":"GSK−3","t":14,"d":0.15,"m":0.12},{"e":2,"p":"GSK−3","t":16,"d":0.23,"m":0.10},{"e":2,"p":"GSK−3","t":18,"d":0.13,"m":0.08},{"e":2,"p":"GSK−3","t":20,"d":0.17,"m":0.06},{"e":2,"p":"GSK−3","t":22,"d":0.09,"m":0.05},{"e":2,"p":"GSK−3","t":24,"d":0.16,"m":0.04},{"e":2,"p":"GSK−3","t":26,"d":0.18,"m":0.03},{"e":2,"p":"GSK−3","t":28,"d":0.12,"m":0.02},{"e":2,"p":"GSK−3","t":30,"d":0.14,"m":0.01},
{"e":3,"p":"GSK−3","t":0,"d":0.87,"m":0.87},{"e":3,"p":"GSK−3","t":2,"d":0.97,"m":0.89},{"e":3,"p":"GSK−3","t":4,"d":0.88,"m":0.91},{"e":3,"p":"GSK−3","t":6,"d":0.98,"m":0.93},{"e":3,"p":"GSK−3","t":8,"d":0.92,"m":0.945},{"e":3,"p":"GSK−3","t":10,"d":0.94,"m":0.96},{"e":3,"p":"GSK−3","t":12,"d":0.95,"m":0.97},{"e":3,"p":"GSK−3","t":14,"d":0.88,"m":0.98},{"e":3,"p":"GSK−3","t":16,"d":0.91,"m":0.99},{"e":3,"p":"GSK−3","t":18,"d":0.94,"m":1.0},{"e":3,"p":"GSK−3","t":20,"d":0.92,"m":1.0},{"e":3,"p":"GSK−3","t":22,"d":0.92,"m":1.0},{"e":3,"p":"GSK−3","t":24,"d":0.91,"m":1.0},{"e":3,"p":"GSK−3","t":26,"d":0.94,"m":1.0},{"e":3,"p":"GSK−3","t":28,"d":0.95,"m":1.0},{"e":3,"p":"GSK−3","t":30,"d":0.92,"m":1.0},
{"e":4,"p":"GSK−3","t":0,"d":0.85,"m":0.85},{"e":4,"p":"GSK−3","t":2,"d":0.63,"m":0.68},{"e":4,"p":"GSK−3","t":4,"d":0.42,"m":0.50},{"e":4,"p":"GSK−3","t":6,"d":0.30,"m":0.36},{"e":4,"p":"GSK−3","t":8,"d":0.18,"m":0.26},{"e":4,"p":"GSK−3","t":10,"d":0.20,"m":0.19},{"e":4,"p":"GSK−3","t":12,"d":0.23,"m":0.14},{"e":4,"p":"GSK−3","t":14,"d":0.19,"m":0.10},{"e":4,"p":"GSK−3","t":16,"d":0.10,"m":0.075},{"e":4,"p":"GSK−3","t":18,"d":0.16,"m":0.055},{"e":4,"p":"GSK−3","t":20,"d":0.16,"m":0.04},{"e":4,"p":"GSK−3","t":22,"d":0.10,"m":0.03},{"e":4,"p":"GSK−3","t":24,"d":0.15,"m":0.02},{"e":4,"p":"GSK−3","t":26,"d":0.13,"m":0.015},{"e":4,"p":"GSK−3","t":28,"d":0.14,"m":0.01},{"e":4,"p":"GSK−3","t":30,"d":0.10,"m":0.01},
{"e":5,"p":"GSK−3","t":0,"d":0.98,"m":0.95},{"e":5,"p":"GSK−3","t":2,"d":0.90,"m":0.955},{"e":5,"p":"GSK−3","t":4,"d":0.82,"m":0.965},{"e":5,"p":"GSK−3","t":6,"d":0.90,"m":0.975},{"e":5,"p":"GSK−3","t":8,"d":0.97,"m":0.98},{"e":5,"p":"GSK−3","t":10,"d":0.91,"m":0.985},{"e":5,"p":"GSK−3","t":12,"d":0.87,"m":0.99},{"e":5,"p":"GSK−3","t":14,"d":0.88,"m":0.995},{"e":5,"p":"GSK−3","t":16,"d":0.94,"m":1.0},{"e":5,"p":"GSK−3","t":18,"d":0.91,"m":1.0},{"e":5,"p":"GSK−3","t":20,"d":0.94,"m":1.0},{"e":5,"p":"GSK−3","t":22,"d":0.94,"m":1.0},{"e":5,"p":"GSK−3","t":24,"d":0.91,"m":1.0},{"e":5,"p":"GSK−3","t":26,"d":0.93,"m":1.0},{"e":5,"p":"GSK−3","t":28,"d":0.87,"m":1.0},{"e":5,"p":"GSK−3","t":30,"d":0.86,"m":1.0},
{"e":6,"p":"GSK−3","t":0,"d":0.88,"m":0.88},{"e":6,"p":"GSK−3","t":2,"d":0.90,"m":0.90},{"e":6,"p":"GSK−3","t":4,"d":0.95,"m":0.92},{"e":6,"p":"GSK−3","t":6,"d":0.92,"m":0.94},{"e":6,"p":"GSK−3","t":8,"d":0.98,"m":0.955},{"e":6,"p":"GSK−3","t":10,"d":0.93,"m":0.965},{"e":6,"p":"GSK−3","t":12,"d":0.95,"m":0.975},{"e":6,"p":"GSK−3","t":14,"d":0.95,"m":0.985},{"e":6,"p":"GSK−3","t":16,"d":0.92,"m":0.99},{"e":6,"p":"GSK−3","t":18,"d":0.95,"m":0.995},{"e":6,"p":"GSK−3","t":20,"d":0.93,"m":1.0},{"e":6,"p":"GSK−3","t":22,"d":0.89,"m":1.0},{"e":6,"p":"GSK−3","t":24,"d":0.93,"m":1.0},{"e":6,"p":"GSK−3","t":26,"d":0.95,"m":1.0},{"e":6,"p":"GSK−3","t":28,"d":0.90,"m":1.0},{"e":6,"p":"GSK−3","t":30,"d":0.88,"m":1.0},
{"e":7,"p":"GSK−3","t":0,"d":0.91,"m":0.91},{"e":7,"p":"GSK−3","t":2,"d":0.93,"m":0.93},{"e":7,"p":"GSK−3","t":4,"d":0.95,"m":0.95},{"e":7,"p":"GSK−3","t":6,"d":0.88,"m":0.96},{"e":7,"p":"GSK−3","t":8,"d":0.91,"m":0.97},{"e":7,"p":"GSK−3","t":10,"d":0.93,"m":0.98},{"e":7,"p":"GSK−3","t":12,"d":0.92,"m":0.985},{"e":7,"p":"GSK−3","t":14,"d":1.0,"m":0.99},{"e":7,"p":"GSK−3","t":16,"d":0.93,"m":0.995},{"e":7,"p":"GSK−3","t":18,"d":0.90,"m":1.0},{"e":7,"p":"GSK−3","t":20,"d":0.89,"m":1.0},{"e":7,"p":"GSK−3","t":22,"d":0.92,"m":1.0},{"e":7,"p":"GSK−3","t":24,"d":0.93,"m":1.0},{"e":7,"p":"GSK−3","t":26,"d":0.86,"m":1.0},{"e":7,"p":"GSK−3","t":28,"d":0.93,"m":1.0},{"e":7,"p":"GSK−3","t":30,"d":0.87,"m":1.0},
{"e":8,"p":"GSK−3","t":0,"d":0.99,"m":0.99},{"e":8,"p":"GSK−3","t":2,"d":0.65,"m":0.68},{"e":8,"p":"GSK−3","t":4,"d":0.50,"m":0.50},{"e":8,"p":"GSK−3","t":6,"d":0.35,"m":0.37},{"e":8,"p":"GSK−3","t":8,"d":0.22,"m":0.27},{"e":8,"p":"GSK−3","t":10,"d":0.24,"m":0.20},{"e":8,"p":"GSK−3","t":12,"d":0.16,"m":0.15},{"e":8,"p":"GSK−3","t":14,"d":0.26,"m":0.11},{"e":8,"p":"GSK−3","t":16,"d":0.23,"m":0.08},{"e":8,"p":"GSK−3","t":18,"d":0.10,"m":0.06},{"e":8,"p":"GSK−3","t":20,"d":0.14,"m":0.05},{"e":8,"p":"GSK−3","t":22,"d":0.12,"m":0.04},{"e":8,"p":"GSK−3","t":24,"d":0.17,"m":0.03},{"e":8,"p":"GSK−3","t":26,"d":0.14,"m":0.02},{"e":8,"p":"GSK−3","t":28,"d":0.16,"m":0.015},{"e":8,"p":"GSK−3","t":30,"d":0.17,"m":0.01},
{"e":9,"p":"GSK−3","t":0,"d":0.89,"m":0.88},{"e":9,"p":"GSK−3","t":2,"d":0.93,"m":0.90},{"e":9,"p":"GSK−3","t":4,"d":0.93,"m":0.92},{"e":9,"p":"GSK−3","t":6,"d":0.90,"m":0.94},{"e":9,"p":"GSK−3","t":8,"d":0.92,"m":0.955},{"e":9,"p":"GSK−3","t":10,"d":0.92,"m":0.97},{"e":9,"p":"GSK−3","t":12,"d":0.91,"m":0.98},{"e":9,"p":"GSK−3","t":14,"d":0.98,"m":0.985},{"e":9,"p":"GSK−3","t":16,"d":0.92,"m":0.99},{"e":9,"p":"GSK−3","t":18,"d":0.94,"m":0.995},{"e":9,"p":"GSK−3","t":20,"d":0.87,"m":1.0},{"e":9,"p":"GSK−3","t":22,"d":1.0,"m":1.0},{"e":9,"p":"GSK−3","t":24,"d":0.95,"m":1.0},{"e":9,"p":"GSK−3","t":26,"d":0.93,"m":1.0},{"e":9,"p":"GSK−3","t":28,"d":0.92,"m":1.0},{"e":9,"p":"GSK−3","t":30,"d":0.95,"m":1.0},
{"e":10,"p":"GSK−3","t":0,"d":0.98,"m":0.98},{"e":10,"p":"GSK−3","t":2,"d":0.58,"m":0.70},{"e":10,"p":"GSK−3","t":4,"d":0.44,"m":0.50},{"e":10,"p":"GSK−3","t":6,"d":0.28,"m":0.36},{"e":10,"p":"GSK−3","t":8,"d":0.28,"m":0.26},{"e":10,"p":"GSK−3","t":10,"d":0.25,"m":0.19},{"e":10,"p":"GSK−3","t":12,"d":0.10,"m":0.14},{"e":10,"p":"GSK−3","t":14,"d":0.22,"m":0.10},{"e":10,"p":"GSK−3","t":16,"d":0.16,"m":0.075},{"e":10,"p":"GSK−3","t":18,"d":0.16,"m":0.055},{"e":10,"p":"GSK−3","t":20,"d":0.16,"m":0.04},{"e":10,"p":"GSK−3","t":22,"d":0.09,"m":0.03},{"e":10,"p":"GSK−3","t":24,"d":0.16,"m":0.02},{"e":10,"p":"GSK−3","t":26,"d":0.14,"m":0.015},{"e":10,"p":"GSK−3","t":28,"d":0.18,"m":0.01},{"e":10,"p":"GSK−3","t":30,"d":0.20,"m":0.01},

{"e":1,"p":"p38","t":0,"d":0.13,"m":0.12},{"e":1,"p":"p38","t":2,"d":0.10,"m":0.11},{"e":1,"p":"p38","t":4,"d":0.15,"m":0.10},{"e":1,"p":"p38","t":6,"d":0.13,"m":0.09},{"e":1,"p":"p38","t":8,"d":0.14,"m":0.083},{"e":1,"p":"p38","t":10,"d":0.24,"m":0.077},{"e":1,"p":"p38","t":12,"d":0.12,"m":0.071},{"e":1,"p":"p38","t":14,"d":0.13,"m":0.066},{"e":1,"p":"p38","t":16,"d":0.10,"m":0.06},{"e":1,"p":"p38","t":18,"d":0.17,"m":0.055},{"e":1,"p":"p38","t":20,"d":0.08,"m":0.05},{"e":1,"p":"p38","t":22,"d":0.26,"m":0.045},{"e":1,"p":"p38","t":24,"d":0.20,"m":0.042},{"e":1,"p":"p38","t":26,"d":0.25,"m":0.039},{"e":1,"p":"p38","t":28,"d":0.25,"m":0.037},{"e":1,"p":"p38","t":30,"d":0.25,"m":0.035},
{"e":2,"p":"p38","t":0,"d":0.15,"m":0.13},{"e":2,"p":"p38","t":2,"d":0.18,"m":0.12},{"e":2,"p":"p38","t":4,"d":0.18,"m":0.105},{"e":2,"p":"p38","t":6,"d":0.23,"m":0.095},{"e":2,"p":"p38","t":8,"d":0.20,"m":0.088},{"e":2,"p":"p38","t":10,"d":0.21,"m":0.08},{"e":2,"p":"p38","t":12,"d":0.17,"m":0.072},{"e":2,"p":"p38","t":14,"d":0.15,"m":0.066},{"e":2,"p":"p38","t":16,"d":0.14,"m":0.06},{"e":2,"p":"p38","t":18,"d":0.14,"m":0.055},{"e":2,"p":"p38","t":20,"d":0.14,"m":0.05},{"e":2,"p":"p38","t":22,"d":0.17,"m":0.045},{"e":2,"p":"p38","t":24,"d":0.13,"m":0.04},{"e":2,"p":"p38","t":26,"d":0.18,"m":0.035},{"e":2,"p":"p38","t":28,"d":0.15,"m":0.03},{"e":2,"p":"p38","t":30,"d":0.18,"m":0.028},
{"e":3,"p":"p38","t":0,"d":0.16,"m":0.15},{"e":3,"p":"p38","t":2,"d":0.20,"m":0.14},{"e":3,"p":"p38","t":4,"d":0.10,"m":0.12},{"e":3,"p":"p38","t":6,"d":0.15,"m":0.11},{"e":3,"p":"p38","t":8,"d":0.18,"m":0.10},{"e":3,"p":"p38","t":10,"d":0.23,"m":0.095},{"e":3,"p":"p38","t":12,"d":0.16,"m":0.09},{"e":3,"p":"p38","t":14,"d":0.17,"m":0.085},{"e":3,"p":"p38","t":16,"d":0.13,"m":0.078},{"e":3,"p":"p38","t":18,"d":0.17,"m":0.07},{"e":3,"p":"p38","t":20,"d":0.15,"m":0.065},{"e":3,"p":"p38","t":22,"d":0.10,"m":0.06},{"e":3,"p":"p38","t":24,"d":0.10,"m":0.054},{"e":3,"p":"p38","t":26,"d":0.14,"m":0.05},{"e":3,"p":"p38","t":28,"d":0.15,"m":0.047},{"e":3,"p":"p38","t":30,"d":0.22,"m":0.045},
{"e":4,"p":"p38","t":0,"d":0.17,"m":0.16},{"e":4,"p":"p38","t":2,"d":0.21,"m":0.20},{"e":4,"p":"p38","t":4,"d":0.22,"m":0.25},{"e":4,"p":"p38","t":6,"d":0.33,"m":0.30},{"e":4,"p":"p38","t":8,"d":0.39,"m":0.35},{"e":4,"p":"p38","t":10,"d":0.48,"m":0.39},{"e":4,"p":"p38","t":12,"d":0.41,"m":0.41},{"e":4,"p":"p38","t":14,"d":0.45,"m":0.42},{"e":4,"p":"p38","t":16,"d":0.39,"m":0.42},{"e":4,"p":"p38","t":18,"d":0.39,"m":0.40},{"e":4,"p":"p38","t":20,"d":0.33,"m":0.37},{"e":4,"p":"p38","t":22,"d":0.35,"m":0.34},{"e":4,"p":"p38","t":24,"d":0.25,"m":0.31},{"e":4,"p":"p38","t":26,"d":0.27,"m":0.28},{"e":4,"p":"p38","t":28,"d":0.19,"m":0.25},{"e":4,"p":"p38","t":30,"d":0.19,"m":0.23},
{"e":5,"p":"p38","t":0,"d":0.13,"m":0.09},{"e":5,"p":"p38","t":2,"d":0.13,"m":0.08},{"e":5,"p":"p38","t":4,"d":0.13,"m":0.065},{"e":5,"p":"p38","t":6,"d":0.16,"m":0.055},{"e":5,"p":"p38","t":8,"d":0.19,"m":0.048},{"e":5,"p":"p38","t":10,"d":0.16,"m":0.042},{"e":5,"p":"p38","t":12,"d":0.09,"m":0.038},{"e":5,"p":"p38","t":14,"d":0.20,"m":0.035},{"e":5,"p":"p38","t":16,"d":0.15,"m":0.032},{"e":5,"p":"p38","t":18,"d":0.13,"m":0.03},{"e":5,"p":"p38","t":20,"d":0.18,"m":0.027},{"e":5,"p":"p38","t":22,"d":0.18,"m":0.025},{"e":5,"p":"p38","t":24,"d":0.11,"m":0.022},{"e":5,"p":"p38","t":26,"d":0.16,"m":0.02},{"e":5,"p":"p38","t":28,"d":0.11,"m":0.018},{"e":5,"p":"p38","t":30,"d":0.16,"m":0.017},
{"e":6,"p":"p38","t":0,"d":0.25,"m":0.24},{"e":6,"p":"p38","t":2,"d":0.22,"m":0.22},{"e":6,"p":"p38","t":4,"d":0.18,"m":0.20},{"e":6,"p":"p38","t":6,"d":0.14,"m":0.18},{"e":6,"p":"p38","t":8,"d":0.18,"m":0.165},{"e":6,"p":"p38","t":10,"d":0.20,"m":0.15},{"e":6,"p":"p38","t":12,"d":0.20,"m":0.135},{"e":6,"p":"p38","t":14,"d":0.17,"m":0.125},{"e":6,"p":"p38","t":16,"d":0.20,"m":0.115},{"e":6,"p":"p38","t":18,"d":0.18,"m":0.105},{"e":6,"p":"p38","t":20,"d":0.18,"m":0.095},{"e":6,"p":"p38","t":22,"d":0.23,"m":0.088},{"e":6,"p":"p38","t":24,"d":0.13,"m":0.082},{"e":6,"p":"p38","t":26,"d":0.04,"m":0.076},{"e":6,"p":"p38","t":28,"d":0.17,"m":0.072},{"e":6,"p":"p38","t":30,"d":0.15,"m":0.07},
{"e":7,"p":"p38","t":0,"d":0.07,"m":0.07},{"e":7,"p":"p38","t":2,"d":0.07,"m":0.08},{"e":7,"p":"p38","t":4,"d":0.22,"m":0.15},{"e":7,"p":"p38","t":6,"d":0.37,"m":0.22},{"e":7,"p":"p38","t":8,"d":0.43,"m":0.28},{"e":7,"p":"p38","t":10,"d":0.40,"m":0.33},{"e":7,"p":"p38","t":12,"d":0.46,"m":0.36},{"e":7,"p":"p38","t":14,"d":0.45,"m":0.38},{"e":7,"p":"p38","t":16,"d":0.43,"m":0.39},{"e":7,"p":"p38","t":18,"d":0.38,"m":0.39},{"e":7,"p":"p38","t":20,"d":0.35,"m":0.37},{"e":7,"p":"p38","t":22,"d":0.30,"m":0.34},{"e":7,"p":"p38","t":24,"d":0.30,"m":0.31},{"e":7,"p":"p38","t":26,"d":0.26,"m":0.28},{"e":7,"p":"p38","t":28,"d":0.15,"m":0.25},{"e":7,"p":"p38","t":30,"d":0.17,"m":0.21},
{"e":8,"p":"p38","t":0,"d":0.17,"m":0.15},{"e":8,"p":"p38","t":2,"d":0.16,"m":0.14},{"e":8,"p":"p38","t":4,"d":0.10,"m":0.125},{"e":8,"p":"p38","t":6,"d":0.15,"m":0.115},{"e":8,"p":"p38","t":8,"d":0.14,"m":0.105},{"e":8,"p":"p38","t":10,"d":0.12,"m":0.097},{"e":8,"p":"p38","t":12,"d":0.18,"m":0.09},{"e":8,"p":"p38","t":14,"d":0.17,"m":0.083},{"e":8,"p":"p38","t":16,"d":0.16,"m":0.075},{"e":8,"p":"p38","t":18,"d":0.16,"m":0.068},{"e":8,"p":"p38","t":20,"d":0.12,"m":0.062},{"e":8,"p":"p38","t":22,"d":0.18,"m":0.057},{"e":8,"p":"p38","t":24,"d":0.19,"m":0.052},{"e":8,"p":"p38","t":26,"d":0.16,"m":0.047},{"e":8,"p":"p38","t":28,"d":0.15,"m":0.043},{"e":8,"p":"p38","t":30,"d":0.16,"m":0.04},
{"e":9,"p":"p38","t":0,"d":0.20,"m":0.17},{"e":9,"p":"p38","t":2,"d":0.10,"m":0.16},{"e":9,"p":"p38","t":4,"d":0.17,"m":0.145},{"e":9,"p":"p38","t":6,"d":0.10,"m":0.135},{"e":9,"p":"p38","t":8,"d":0.21,"m":0.125},{"e":9,"p":"p38","t":10,"d":0.19,"m":0.115},{"e":9,"p":"p38","t":12,"d":0.17,"m":0.105},{"e":9,"p":"p38","t":14,"d":0.20,"m":0.097},{"e":9,"p":"p38","t":16,"d":0.16,"m":0.09},{"e":9,"p":"p38","t":18,"d":0.10,"m":0.082},{"e":9,"p":"p38","t":20,"d":0.14,"m":0.075},{"e":9,"p":"p38","t":22,"d":0.18,"m":0.068},{"e":9,"p":"p38","t":24,"d":0.09,"m":0.062},{"e":9,"p":"p38","t":26,"d":0.15,"m":0.056},{"e":9,"p":"p38","t":28,"d":0.15,"m":0.05},{"e":9,"p":"p38","t":30,"d":0.15,"m":0.046},
{"e":10,"p":"p38","t":0,"d":0.12,"m":0.10},{"e":10,"p":"p38","t":2,"d":0.18,"m":0.14},{"e":10,"p":"p38","t":4,"d":0.19,"m":0.20},{"e":10,"p":"p38","t":6,"d":0.40,"m":0.26},{"e":10,"p":"p38","t":8,"d":0.43,"m":0.31},{"e":10,"p":"p38","t":10,"d":0.53,"m":0.37},{"e":10,"p":"p38","t":12,"d":0.50,"m":0.42},{"e":10,"p":"p38","t":14,"d":0.53,"m":0.47},{"e":10,"p":"p38","t":16,"d":0.66,"m":0.52},{"e":10,"p":"p38","t":18,"d":0.73,"m":0.56},{"e":10,"p":"p38","t":20,"d":0.73,"m":0.60},{"e":10,"p":"p38","t":22,"d":0.77,"m":0.64},{"e":10,"p":"p38","t":24,"d":0.80,"m":0.67},{"e":10,"p":"p38","t":26,"d":0.77,"m":0.70},{"e":10,"p":"p38","t":28,"d":0.79,"m":0.73},{"e":10,"p":"p38","t":30,"d":0.84,"m":0.77},

{"e":1,"p":"NFκB","t":0,"d":0.15,"m":0.15},{"e":1,"p":"NFκB","t":2,"d":0.24,"m":0.23},{"e":1,"p":"NFκB","t":4,"d":0.20,"m":0.03},{"e":1,"p":"NFκB","t":6,"d":0.15,"m":0},{"e":1,"p":"NFκB","t":8,"d":0.17,"m":0},{"e":1,"p":"NFκB","t":10,"d":0.18,"m":0},{"e":1,"p":"NFκB","t":12,"d":0.19,"m":0},{"e":1,"p":"NFκB","t":14,"d":0.12,"m":0},{"e":1,"p":"NFκB","t":16,"d":0.18,"m":0},{"e":1,"p":"NFκB","t":18,"d":0.18,"m":0},{"e":1,"p":"NFκB","t":20,"d":0.22,"m":0},{"e":1,"p":"NFκB","t":22,"d":0.18,"m":0},{"e":1,"p":"NFκB","t":24,"d":0.20,"m":0},{"e":1,"p":"NFκB","t":26,"d":0.18,"m":0},{"e":1,"p":"NFκB","t":28,"d":0.21,"m":0},{"e":1,"p":"NFκB","t":30,"d":0.13,"m":0},
{"e":2,"p":"NFκB","t":0,"d":0.15,"m":0.14},{"e":2,"p":"NFκB","t":2,"d":0.20,"m":0.22},{"e":2,"p":"NFκB","t":4,"d":0.15,"m":0.05},{"e":2,"p":"NFκB","t":6,"d":0.18,"m":0.01},{"e":2,"p":"NFκB","t":8,"d":0.15,"m":0},{"e":2,"p":"NFκB","t":10,"d":0.11,"m":0},{"e":2,"p":"NFκB","t":12,"d":0.17,"m":0},{"e":2,"p":"NFκB","t":14,"d":0.15,"m":0},{"e":2,"p":"NFκB","t":16,"d":0.18,"m":0},{"e":2,"p":"NFκB","t":18,"d":0.17,"m":0},{"e":2,"p":"NFκB","t":20,"d":0.23,"m":0},{"e":2,"p":"NFκB","t":22,"d":0.17,"m":0},{"e":2,"p":"NFκB","t":24,"d":0.13,"m":0},{"e":2,"p":"NFκB","t":26,"d":0.08,"m":0},{"e":2,"p":"NFκB","t":28,"d":0.18,"m":0},{"e":2,"p":"NFκB","t":30,"d":0.18,"m":0},
{"e":3,"p":"NFκB","t":0,"d":0.13,"m":0.13},{"e":3,"p":"NFκB","t":2,"d":0.77,"m":0.72},{"e":3,"p":"NFκB","t":4,"d":0.45,"m":0.42},{"e":3,"p":"NFκB","t":6,"d":0.44,"m":0.40},{"e":3,"p":"NFκB","t":8,"d":0.71,"m":0.62},{"e":3,"p":"NFκB","t":10,"d":0.30,"m":0.35},{"e":3,"p":"NFκB","t":12,"d":0.71,"m":0.60},{"e":3,"p":"NFκB","t":14,"d":0.44,"m":0.45},{"e":3,"p":"NFκB","t":16,"d":0.49,"m":0.45},{"e":3,"p":"NFκB","t":18,"d":0.61,"m":0.55},{"e":3,"p":"NFκB","t":20,"d":0.22,"m":0.32},{"e":3,"p":"NFκB","t":22,"d":0.77,"m":0.68},{"e":3,"p":"NFκB","t":24,"d":0.34,"m":0.35},{"e":3,"p":"NFκB","t":26,"d":0.59,"m":0.55},{"e":3,"p":"NFκB","t":28,"d":0.51,"m":0.50},{"e":3,"p":"NFκB","t":30,"d":0.39,"m":0.42},
{"e":4,"p":"NFκB","t":0,"d":0.18,"m":0.17},{"e":4,"p":"NFκB","t":2,"d":0.69,"m":0.65},{"e":4,"p":"NFκB","t":4,"d":0.49,"m":0.48},{"e":4,"p":"NFκB","t":6,"d":0.41,"m":0.42},{"e":4,"p":"NFκB","t":8,"d":0.69,"m":0.62},{"e":4,"p":"NFκB","t":10,"d":0.28,"m":0.32},{"e":4,"p":"NFκB","t":12,"d":0.66,"m":0.62},{"e":4,"p":"NFκB","t":14,"d":0.45,"m":0.45},{"e":4,"p":"NFκB","t":16,"d":0.46,"m":0.47},{"e":4,"p":"NFκB","t":18,"d":0.63,"m":0.58},{"e":4,"p":"NFκB","t":20,"d":0.35,"m":0.36},{"e":4,"p":"NFκB","t":22,"d":0.70,"m":0.64},{"e":4,"p":"NFκB","t":24,"d":0.35,"m":0.37},{"e":4,"p":"NFκB","t":26,"d":0.55,"m":0.55},{"e":4,"p":"NFκB","t":28,"d":0.51,"m":0.50},{"e":4,"p":"NFκB","t":30,"d":0.35,"m":0.40},
{"e":5,"p":"NFκB","t":0,"d":0.16,"m":0.15},{"e":5,"p":"NFκB","t":2,"d":0.20,"m":0.23},{"e":5,"p":"NFκB","t":4,"d":0.23,"m":0.05},{"e":5,"p":"NFκB","t":6,"d":0.14,"m":0},{"e":5,"p":"NFκB","t":8,"d":0.10,"m":0},{"e":5,"p":"NFκB","t":10,"d":0.15,"m":0},{"e":5,"p":"NFκB","t":12,"d":0.20,"m":0},{"e":5,"p":"NFκB","t":14,"d":0.12,"m":0},{"e":5,"p":"NFκB","t":16,"d":0.11,"m":0},{"e":5,"p":"NFκB","t":18,"d":0.15,"m":0},{"e":5,"p":"NFκB","t":20,"d":0.15,"m":0},{"e":5,"p":"NFκB","t":22,"d":0.17,"m":0},{"e":5,"p":"NFκB","t":24,"d":0.19,"m":0},{"e":5,"p":"NFκB","t":26,"d":0.14,"m":0},{"e":5,"p":"NFκB","t":28,"d":0.21,"m":0},{"e":5,"p":"NFκB","t":30,"d":0.10,"m":0},
{"e":6,"p":"NFκB","t":0,"d":0.18,"m":0.17},{"e":6,"p":"NFκB","t":2,"d":0.78,"m":0.70},{"e":6,"p":"NFκB","t":4,"d":0.36,"m":0.42},{"e":6,"p":"NFκB","t":6,"d":0.40,"m":0.38},{"e":6,"p":"NFκB","t":8,"d":0.76,"m":0.70},{"e":6,"p":"NFκB","t":10,"d":0.31,"m":0.32},{"e":6,"p":"NFκB","t":12,"d":0.69,"m":0.62},{"e":6,"p":"NFκB","t":14,"d":0.43,"m":0.45},{"e":6,"p":"NFκB","t":16,"d":0.45,"m":0.45},{"e":6,"p":"NFκB","t":18,"d":0.63,"m":0.60},{"e":6,"p":"NFκB","t":20,"d":0.22,"m":0.30},{"e":6,"p":"NFκB","t":22,"d":0.73,"m":0.65},{"e":6,"p":"NFκB","t":24,"d":0.42,"m":0.38},{"e":6,"p":"NFκB","t":26,"d":0.60,"m":0.55},{"e":6,"p":"NFκB","t":28,"d":0.54,"m":0.52},{"e":6,"p":"NFκB","t":30,"d":0.29,"m":0.35},
{"e":7,"p":"NFκB","t":0,"d":0.15,"m":0.15},{"e":7,"p":"NFκB","t":2,"d":0.65,"m":0.62},{"e":7,"p":"NFκB","t":4,"d":0.43,"m":0.45},{"e":7,"p":"NFκB","t":6,"d":0.38,"m":0.38},{"e":7,"p":"NFκB","t":8,"d":0.74,"m":0.68},{"e":7,"p":"NFκB","t":10,"d":0.28,"m":0.32},{"e":7,"p":"NFκB","t":12,"d":0.65,"m":0.62},{"e":7,"p":"NFκB","t":14,"d":0.40,"m":0.42},{"e":7,"p":"NFκB","t":16,"d":0.50,"m":0.50},{"e":7,"p":"NFκB","t":18,"d":0.56,"m":0.55},{"e":7,"p":"NFκB","t":20,"d":0.21,"m":0.30},{"e":7,"p":"NFκB","t":22,"d":0.74,"m":0.65},{"e":7,"p":"NFκB","t":24,"d":0.32,"m":0.35},{"e":7,"p":"NFκB","t":26,"d":0.56,"m":0.55},{"e":7,"p":"NFκB","t":28,"d":0.54,"m":0.50},{"e":7,"p":"NFκB","t":30,"d":0.31,"m":0.35},
{"e":8,"p":"NFκB","t":0,"d":0.21,"m":0.20},{"e":8,"p":"NFκB","t":2,"d":0.22,"m":0.26},{"e":8,"p":"NFκB","t":4,"d":0.15,"m":0.05},{"e":8,"p":"NFκB","t":6,"d":0.22,"m":0},{"e":8,"p":"NFκB","t":8,"d":0.19,"m":0},{"e":8,"p":"NFκB","t":10,"d":0.22,"m":0},{"e":8,"p":"NFκB","t":12,"d":0.17,"m":0},{"e":8,"p":"NFκB","t":14,"d":0.17,"m":0},{"e":8,"p":"NFκB","t":16,"d":0.23,"m":0},{"e":8,"p":"NFκB","t":18,"d":0.18,"m":0},{"e":8,"p":"NFκB","t":20,"d":0.19,"m":0},{"e":8,"p":"NFκB","t":22,"d":0.19,"m":0},{"e":8,"p":"NFκB","t":24,"d":0.10,"m":0},{"e":8,"p":"NFκB","t":26,"d":0.19,"m":0},{"e":8,"p":"NFκB","t":28,"d":0.17,"m":0},{"e":8,"p":"NFκB","t":30,"d":0.19,"m":0},
{"e":9,"p":"NFκB","t":0,"d":0.14,"m":0.14},{"e":9,"p":"NFκB","t":2,"d":0.71,"m":0.65},{"e":9,"p":"NFκB","t":4,"d":0.41,"m":0.45},{"e":9,"p":"NFκB","t":6,"d":0.40,"m":0.40},{"e":9,"p":"NFκB","t":8,"d":0.81,"m":0.65},{"e":9,"p":"NFκB","t":10,"d":0.35,"m":0.38},{"e":9,"p":"NFκB","t":12,"d":0.76,"m":0.62},{"e":9,"p":"NFκB","t":14,"d":0.46,"m":0.45},{"e":9,"p":"NFκB","t":16,"d":0.44,"m":0.45},{"e":9,"p":"NFκB","t":18,"d":0.66,"m":0.58},{"e":9,"p":"NFκB","t":20,"d":0.34,"m":0.38},{"e":9,"p":"NFκB","t":22,"d":0.83,"m":0.65},{"e":9,"p":"NFκB","t":24,"d":0.32,"m":0.35},{"e":9,"p":"NFκB","t":26,"d":0.56,"m":0.55},{"e":9,"p":"NFκB","t":28,"d":0.58,"m":0.52},{"e":9,"p":"NFκB","t":30,"d":0.33,"m":0.38},
{"e":10,"p":"NFκB","t":0,"d":0.10,"m":0.10},{"e":10,"p":"NFκB","t":2,"d":0.73,"m":0.65},{"e":10,"p":"NFκB","t":4,"d":0.48,"m":0.45},{"e":10,"p":"NFκB","t":6,"d":0.41,"m":0.40},{"e":10,"p":"NFκB","t":8,"d":0.75,"m":0.65},{"e":10,"p":"NFκB","t":10,"d":0.30,"m":0.35},{"e":10,"p":"NFκB","t":12,"d":0.73,"m":0.60},{"e":10,"p":"NFκB","t":14,"d":0.43,"m":0.45},{"e":10,"p":"NFκB","t":16,"d":0.48,"m":0.47},{"e":10,"p":"NFκB","t":18,"d":0.60,"m":0.55},{"e":10,"p":"NFκB","t":20,"d":0.23,"m":0.35},{"e":10,"p":"NFκB","t":22,"d":0.75,"m":0.65},{"e":10,"p":"NFκB","t":24,"d":0.33,"m":0.38},{"e":10,"p":"NFκB","t":26,"d":0.59,"m":0.55},{"e":10,"p":"NFκB","t":28,"d":0.57,"m":0.52},{"e":10,"p":"NFκB","t":30,"d":0.37,"m":0.40}
]},
"vconcat":[
{"data":{"name":"heads"},
 "facet":{"column":{"field":"h","type":"nominal","sort":["Raf−1","ERK","AP1","GSK−3","p38","NFκB","Stim","Inh"],"header":null}},
 "spacing":{"column":11},
 "bounds":"flush",
 "spec":{"width":172,"height":71,"view":{"stroke":"#2a45ff","strokeWidth":1.5,"fill":"white"},
   "mark":{"type":"text","fontSize":45,"color":"#0000ff","font":"Liberation Serif","baseline":"middle","align":"center"},
   "encoding":{"text":{"field":"h","type":"nominal"},
     "y":{"datum":0.5,"type":"quantitative","scale":{"domain":[0,1],"nice":false},"axis":{"values":[0.5],"labels":false,"domain":false,"tickSize":9,"tickOpacity":0,"title":null,"grid":false}}}}},
{"hconcat":[
 {"data":{"name":"obs"},
  "facet":{"row":{"field":"e","type":"ordinal","header":null},"column":{"field":"p","type":"nominal","sort":["Raf−1","ERK","AP1","GSK−3","p38","NFκB"],"header":null}},
  "spacing":{"row":11,"column":11},
  "bounds":"flush",
  "spec":{"width":172,"height":86,
   "layer":[
    {"transform":[{"filter":{"field":"r","valid":true}}],
     "mark":{"type":"rect"},
     "encoding":{
      "x":{"datum":-1,"type":"quantitative","scale":{"domain":[-1,31.1],"nice":false,"zero":false},"axis":{"values":[0,10,30],"tickSize":10,"labelPadding":3,"title":null,"grid":false}},
      "x2":{"datum":31.1},
      "y":{"datum":-0.045,"type":"quantitative","scale":{"domain":[-0.045,1.04],"nice":false,"zero":false},"axis":{"values":[0,0.5,1],"labels":false,"tickSize":9,"title":null,"grid":false}},
      "y2":{"datum":1.04},
      "fill":{"field":"r","type":"quantitative","scale":{"type":"threshold","domain":[0.01,0.03,0.2,0.28],"range":["#fffff4","#ffffdc","#fffbb4","#ff2000","#ff0000"]},"legend":null}}},
    {"transform":[{"filter":{"field":"t","valid":true}}],
     "mark":{"type":"point","shape":"triangle-up","filled":false,"stroke":"#000000","strokeWidth":1,"size":105,"opacity":1},
     "encoding":{"x":{"field":"t","type":"quantitative"},"y":{"field":"d","type":"quantitative"}}},
    {"transform":[{"filter":{"field":"t","valid":true}}],
     "mark":{"type":"line","color":"#0000ff","strokeWidth":3,"strokeDash":[9,17],"strokeCap":"round"},
     "encoding":{"x":{"field":"t","type":"quantitative"},"y":{"field":"m","type":"quantitative"}}}
   ]}},
 {"hconcat":[
  {"data":{"name":"stim"},
   "facet":{"row":{"field":"e","type":"ordinal","header":null}},
   "spacing":{"row":11},
   "bounds":"flush",
   "spec":{"width":172,"height":86,"view":{"stroke":"#aaaaaa","strokeWidth":1},
    "mark":{"type":"rect"},
    "encoding":{
     "x":{"field":"s","type":"nominal","scale":{"paddingInner":0,"paddingOuter":0},"axis":{"labelAngle":270,"tickSize":10,"labelPadding":4,"labelFontSize":22,"title":null,"domain":false}},
     "fill":{"field":"v","type":"nominal","scale":{"domain":[0,1],"range":["#ffffff","#000000"]},"legend":null}}}},
  {"data":{"name":"inh"},
   "facet":{"row":{"field":"e","type":"ordinal","header":null}},
   "spacing":{"row":11},
   "bounds":"flush",
   "spec":{"width":172,"height":86,"view":{"stroke":"#aaaaaa","strokeWidth":1},
    "mark":{"type":"rect"},
    "encoding":{
     "x":{"field":"s","type":"nominal","scale":{"paddingInner":0,"paddingOuter":0},"axis":{"labelAngle":270,"tickSize":10,"labelPadding":4,"labelFontSize":22,"title":null,"domain":false}},
     "fill":{"field":"v","type":"nominal","scale":{"domain":[0,1],"range":["#ffffff","#000000"]},"legend":null}}}}
  ],"spacing":9}
 ],"spacing":0}
],
"spacing":5
}
